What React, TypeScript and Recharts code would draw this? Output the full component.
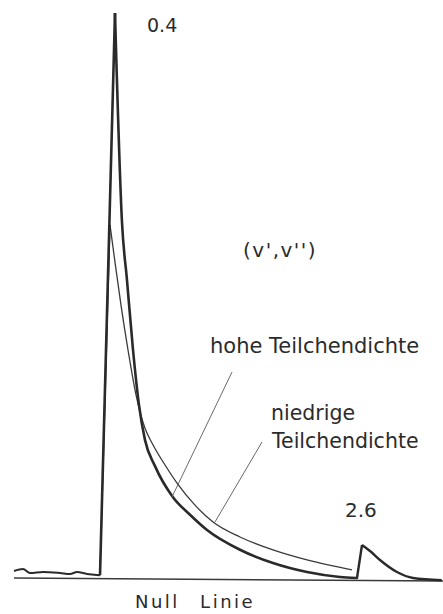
import React from 'react';
import { LineChart, Line, XAxis, YAxis, ReferenceLine } from 'recharts';

// Zeit in µs (0 = Anregung), Intensität in willkürlichen Einheiten
const rauschenT = [-20, -17.9, -16.27, -13.24, -9.28, -6.95, -5.31, -2.98, -0.65, 0.05];
const rauschenV = [1.24, 1.59, 0.88, 1.06, 0.88, 0.71, 1.06, 0.71, 0.53, 0.5];

// hohe Teilchendichte (0.4-Bande)
const hoheAnstiegT = [0.05, 3.54];
const hoheAnstiegV = [0.5, 100];
const hoheAbfallT = [3.54, 5.17, 6.34, 7.74, 9.14, 10.54, 12.87, 17.06, 21.03, 24.99, 32.68, 40.37, 48.3, 55.99, 59.72];
const hoheAbfallV = [100, 63.0, 52.7, 40.4, 30.6, 24.4, 19.8, 14.3, 11.2, 8.5, 5.0, 2.65, 1.06, 0.18, 0];

// niedrige Teilchendichte
const niedrigeAnstiegT = [0.05, 2.38];
const niedrigeAnstiegV = [0.5, 62.5];
const niedrigeAbfallT = [2.38, 3.54, 4.94, 6.57, 8.44, 10.54, 12.17, 15.2, 18.0, 22.19, 26.39, 32.68, 40.37, 48.3, 58.79];
const niedrigeAbfallV = [62.5, 55.9, 48.3, 40.4, 32.4, 26.5, 23.9, 20.0, 16.8, 12.9, 9.9, 7.26, 4.96, 3.19, 1.42];

// 2.6-Bande
const zweiteAnstiegT = [59.72, 59.95, 61.12];
const zweiteAnstiegV = [0, 0, 5.84];
const zweiteAbfallT = [61.12, 62.98, 65.31, 69.28, 73.01, 79.7];
const zweiteAbfallV = [5.84, 4.78, 3.19, 1.06, 0, -0.4];

// Nulllinie und Hinweisstriche
const nullLinieT = [-20, 80];
const nullLinieV = [0, -0.53];
const hoheHinweis = [{ t: 30.82, v: 36.46 }, { t: 16.83, v: 14.34 }];
const niedrigeHinweis = [{ t: 37.81, v: 24.07 }, { t: 26.85, v: 9.91 }];

const zip = (t: number[], v: number[]) => t.map((x, i) => ({ t: x, v: v[i] }));

const DICK = '#2a2a2a';
const DUENN = '#3a3a3a';
const SCHRIFT = '#2b2b2b';
const FONT = '"DejaVu Sans", sans-serif';

type Segment = { t: number[]; v: number[]; type: 'linear' | 'monotone'; width: number; color: string };

const segmente: Segment[] = [
  { t: rauschenT, v: rauschenV, type: 'monotone', width: 2, color: DICK },
  { t: niedrigeAnstiegT, v: niedrigeAnstiegV, type: 'linear', width: 1.3, color: DUENN },
  { t: niedrigeAbfallT, v: niedrigeAbfallV, type: 'monotone', width: 1.3, color: DUENN },
  { t: hoheAnstiegT, v: hoheAnstiegV, type: 'linear', width: 2.6, color: DICK },
  { t: hoheAbfallT, v: hoheAbfallV, type: 'monotone', width: 2.6, color: DICK },
  { t: zweiteAnstiegT, v: zweiteAnstiegV, type: 'linear', width: 2.4, color: DICK },
  { t: zweiteAbfallT, v: zweiteAbfallV, type: 'monotone', width: 2.4, color: DICK },
];

const textStyle = { fontFamily: FONT, fill: SCHRIFT };

const App: React.FC = () => {
  return (
    <div style={{ position: 'absolute', left: 0, top: 0, width: 443, height: 614, background: '#fff' }}>
      <LineChart width={443} height={614} margin={{ top: 13, right: 0, bottom: 30.35, left: 14 }}>
        <XAxis type="number" dataKey="t" domain={[-20, 80]} hide />
        <YAxis type="number" dataKey="v" domain={[-1, 100]} hide />
        <Line
          data={zip(nullLinieT, nullLinieV)}
          dataKey="v"
          type="linear"
          stroke={DUENN}
          strokeWidth={1.6}
          dot={false}
          activeDot={false}
          isAnimationActive={false}
        />
        {segmente.map((s, i) => (
          <Line
            key={i}
            data={zip(s.t, s.v)}
            dataKey="v"
            type={s.type}
            stroke={s.color}
            strokeWidth={s.width}
            strokeLinejoin="round"
            dot={false}
            activeDot={false}
            isAnimationActive={false}
          />
        ))}
        <ReferenceLine
          segment={[{ x: hoheHinweis[0].t, y: hoheHinweis[0].v }, { x: hoheHinweis[1].t, y: hoheHinweis[1].v }]}
          stroke="#6a6a6a"
          strokeWidth={1}
        />
        <ReferenceLine
          segment={[{ x: niedrigeHinweis[0].t, y: niedrigeHinweis[0].v }, { x: niedrigeHinweis[1].t, y: niedrigeHinweis[1].v }]}
          stroke="#6a6a6a"
          strokeWidth={1}
        />
        <text x={147} y={32} fontSize={19} {...textStyle}>0.4</text>
        <text x={243} y={257} fontSize={20} letterSpacing={1.5} {...textStyle}>(v',v'')</text>
        <text x={210} y={353} fontSize={21} {...textStyle}>hohe Teilchendichte</text>
        <text x={271} y={420} fontSize={20.5} {...textStyle}>niedrige</text>
        <text x={272} y={448} fontSize={20.5} {...textStyle}>Teilchendichte</text>
        <text x={345} y={517} fontSize={20} {...textStyle}>2.6</text>
        <text x={135} y={608} fontSize={18} letterSpacing={2.5} wordSpacing={12} {...textStyle}>Null Linie</text>
      </LineChart>
    </div>
  );
};

export default App;
